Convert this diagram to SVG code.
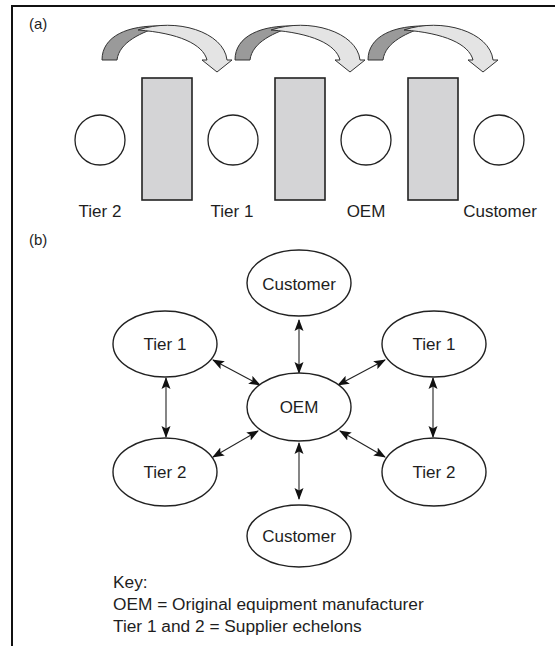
<svg xmlns="http://www.w3.org/2000/svg" width="555" height="646" viewBox="0 0 555 646">
<style>
  text { font-family: "Liberation Sans", Arial, sans-serif; fill: #1e1e1e; }
  .lbl { font-size: 17px; text-anchor: middle; }
  .key { font-size: 17.3px; }
  .panel { font-size: 15px; }
  .node { fill: #fff; stroke: #222; stroke-width: 1.4; }
  .bar { fill: #d4d4d6; stroke: #222; stroke-width: 1.6; }
  .circ { fill: #fff; stroke: #222; stroke-width: 1.3; }
  .dark { fill: #9a9a9a; stroke: #333; stroke-width: 1; }
  .light { fill: #e4e4e4; stroke: #333; stroke-width: 1; }
  .conn { stroke: #222; stroke-width: 1.1; fill: none; marker-start: url(#ah); marker-end: url(#ah); }
</style>
<defs>
  <marker id="ah" viewBox="0 0 12 10" refX="11" refY="5" markerWidth="12" markerHeight="10" markerUnits="userSpaceOnUse" orient="auto-start-reverse">
    <path d="M0,0.5 L12,5 L0,9.5 L2.5,5 Z" fill="#111"/>
  </marker>
  <g id="curl">
    <path class="dark" d="M102,60 C102,36 128,25 162,26 C142,32 119,42 117,60 Z"/>
    <path class="light" d="M138,30 C176,17 224,32 227,60 L232,60 L217,72 L202,60 L207,60 C203,44 178,33 138,30 Z"/>
  </g>
</defs>
<rect width="555" height="646" fill="#fff"/>
<path d="M12,646 L12,6 L555,6" fill="none" stroke="#111" stroke-width="2"/>

<g id="panel-a">
  <text class="panel" x="29" y="29">(a)</text>
  <use href="#curl"/>
  <use href="#curl" x="133"/>
  <use href="#curl" x="266"/>
  <rect class="bar" x="142" y="78" width="50" height="122"/>
  <rect class="bar" x="275" y="78" width="50" height="122"/>
  <rect class="bar" x="408" y="78" width="50" height="122"/>
  <g id="a-tier2"><circle class="circ" cx="100" cy="140" r="25"/><text class="lbl" x="100" y="217">Tier 2</text></g>
  <g id="a-tier1"><circle class="circ" cx="233" cy="140" r="25"/><text class="lbl" x="232" y="217">Tier 1</text></g>
  <g id="a-oem"><circle class="circ" cx="366" cy="140" r="25"/><text class="lbl" x="366" y="217">OEM</text></g>
  <g id="a-customer"><circle class="circ" cx="499" cy="140" r="25"/><text class="lbl" x="500" y="217">Customer</text></g>
</g>

<text class="panel" x="29" y="245">(b)</text>

<g id="connectors">
  <line class="conn" x1="299" y1="320" x2="299" y2="373"/>
  <line class="conn" x1="213" y1="360" x2="260" y2="385"/>
  <line class="conn" x1="385" y1="360" x2="338" y2="385"/>
  <line class="conn" x1="166" y1="378" x2="166" y2="437"/>
  <line class="conn" x1="433" y1="378" x2="433" y2="437"/>
  <line class="conn" x1="258" y1="431" x2="213" y2="457"/>
  <line class="conn" x1="340" y1="431" x2="385" y2="457"/>
  <line class="conn" x1="299" y1="443" x2="299" y2="499"/>
</g>

<g id="customer-top"><ellipse class="node" cx="299" cy="283" rx="52" ry="33"/><text class="lbl" x="299" y="290">Customer</text></g>
<g id="tier1-left"><ellipse class="node" cx="165" cy="344" rx="52" ry="33"/><text class="lbl" x="165" y="350">Tier 1</text></g>
<g id="tier1-right"><ellipse class="node" cx="434" cy="344" rx="52" ry="33"/><text class="lbl" x="434" y="350">Tier 1</text></g>
<g id="oem"><ellipse class="node" cx="299" cy="407" rx="52" ry="34"/><text class="lbl" x="299" y="413">OEM</text></g>
<g id="tier2-left"><ellipse class="node" cx="165" cy="472" rx="52" ry="34"/><text class="lbl" x="165" y="478">Tier 2</text></g>
<g id="tier2-right"><ellipse class="node" cx="434" cy="472" rx="52" ry="34"/><text class="lbl" x="434" y="478">Tier 2</text></g>
<g id="customer-bottom"><ellipse class="node" cx="299" cy="536" rx="52" ry="31"/><text class="lbl" x="299" y="542">Customer</text></g>

<g id="key">
  <text class="key" x="113" y="588">Key:</text>
  <text class="key" x="113" y="610">OEM = Original equipment manufacturer</text>
  <text class="key" x="113" y="632">Tier 1 and 2 = Supplier echelons</text>
</g>
</svg>
